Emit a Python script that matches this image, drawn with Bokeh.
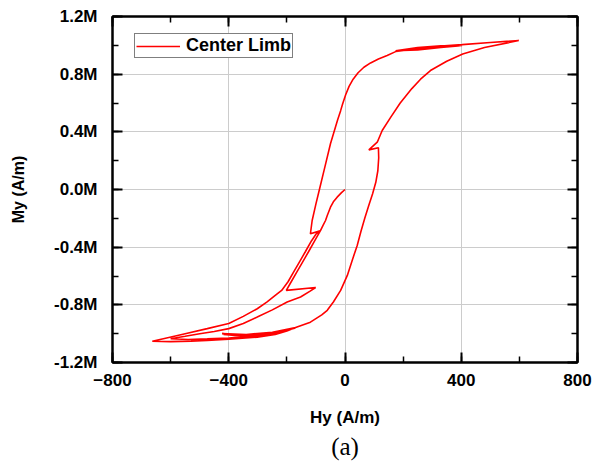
from bokeh.plotting import figure
from bokeh.models import Range1d, FixedTicker, PrintfTickFormatter, LinearAxis, Title
from bokeh.embed import file_html
from bokeh.resources import INLINE

# ---- data (Hy in A/m, My in MA/m) ----
initial_H = [0, -12, -27, -40, -50, -61, -67, -76, -84]
initial_M = [0, -0.022, -0.053, -0.085, -0.123, -0.18, -0.215, -0.25, -0.284]

descent1_H = [-104, -125, -145, -165, -185, -202]
descent1_M = [-0.355, -0.43, -0.50, -0.57, -0.64, -0.70]

notch1_H = [-101]
notch1_M = [-0.68]

lineB_H = [-120, -153, -199, -250, -302, -350, -400, -450, -500, -550, -600]
lineB_M = [-0.705, -0.746, -0.78, -0.835, -0.885, -0.93, -0.965, -0.985, -1.0, -1.018, -1.035]

return2_H = [-540, -474, -400, -302, -240, -200, -170]
return2_M = [-1.04, -1.036, -1.03, -1.015, -0.998, -0.975, -0.958]

bottom_loop_H = [-250, -340, -423, -340, -250, -170, -250, -340, -418, -340, -250, -170]
bottom_loop_M = [-0.99, -1.006, -1.0, -1.015, -1.003, -0.96, -0.995, -1.01, -1.005, -1.02, -1.008, -0.958]

rise_H = [-119, -80, -61, -40, -15, 8, 25, 42, 55, 68, 82, 95, 106, 113, 116, 115]
rise_M = [-0.92, -0.87, -0.838, -0.78, -0.70, -0.596, -0.49, -0.388, -0.29, -0.20, -0.11, -0.03, 0.05, 0.13, 0.22, 0.29]

notch2_H = [82]
notch2_M = [0.275]

upper_H = [111, 128, 157, 190, 230, 260, 294, 350, 405, 480, 598]
upper_M = [0.328, 0.409, 0.5, 0.6, 0.70, 0.765, 0.825, 0.89, 0.94, 0.985, 1.033]

top_back_H = [500, 403, 294, 230, 174]
top_back_M = [1.02, 1.005, 0.99, 0.975, 0.958]

top_loop_H = [250, 330, 403, 330, 250, 174, 250, 330, 398, 330, 250, 176]
top_loop_M = [0.972, 0.99, 1.0, 0.997, 0.985, 0.962, 0.968, 0.985, 0.998, 0.993, 0.98, 0.958]

fall_H = [145, 115, 88, 65, 45, 28, 14, 2, -8, -15, -25, -33, -50, -70, -88, -100, -113, -119]
fall_M = [0.93, 0.905, 0.878, 0.848, 0.81, 0.765, 0.715, 0.655, 0.595, 0.547, 0.485, 0.432,
          0.317, 0.15, 0.0, -0.1, -0.215, -0.307]

notch3_H = [-86]
notch3_M = [-0.287]

descent2_H = [-100, -115, -136, -156, -176, -196, -218]
descent2_M = [-0.31, -0.355, -0.43, -0.50, -0.57, -0.64, -0.70]

lineA_H = [-240, -268, -302, -350, -400, -474, -550, -610, -663]
lineA_M = [-0.735, -0.78, -0.827, -0.88, -0.93, -0.965, -1.0, -1.028, -1.053]

return1_H = [-600, -530, -474, -400, -302, -240, -200, -170]
return1_M = [-1.055, -1.052, -1.047, -1.038, -1.024, -1.005, -0.982, -0.958]

x_major = [-800, -400, 0, 400, 800]
x_minor = [-800, -600, -400, -200, 0, 200, 400, 600, 800]
y_major = [-1.2, -0.8, -0.4, 0.0, 0.4, 0.8, 1.2]
y_minor = [-1.2, -1.0, -0.8, -0.6, -0.4, -0.2, 0.0, 0.2, 0.4, 0.6, 0.8, 1.0, 1.2]

H = (initial_H + descent1_H + notch1_H + lineB_H + return2_H + bottom_loop_H + rise_H
     + notch2_H + upper_H + top_back_H + top_loop_H + fall_H + notch3_H + descent2_H
     + lineA_H + return1_H)
M = (initial_M + descent1_M + notch1_M + lineB_M + return2_M + bottom_loop_M + rise_M
     + notch2_M + upper_M + top_back_M + top_loop_M + fall_M + notch3_M + descent2_M
     + lineA_M + return1_M)

FONT = "Liberation Sans"

p = figure(width=592, height=470, output_backend="svg", toolbar_location=None,
           x_range=Range1d(-800, 800), y_range=Range1d(-1.2, 1.2),
           min_border_left=112, min_border_right=15, min_border_top=16, min_border_bottom=108,
           background_fill_color="white", border_fill_color="white")
p.outline_line_color = "black"
p.outline_line_width = 2

p.line(H, M, line_color="#ff0000", line_width=1.6, legend_label="Center Limb")

x_ticker = FixedTicker(ticks=x_major, minor_ticks=x_minor)
y_ticker = FixedTicker(ticks=y_major, minor_ticks=y_minor)


def style_axis(ax):
    ax.axis_line_color = "black"
    ax.axis_line_width = 2
    ax.major_tick_in = 10
    ax.major_tick_out = 0
    ax.minor_tick_in = 6
    ax.minor_tick_out = 0
    ax.major_tick_line_width = 2
    ax.minor_tick_line_width = 1.5
    ax.major_tick_line_color = "black"
    ax.minor_tick_line_color = "black"
    ax.major_label_text_font = FONT
    ax.major_label_text_font_style = "bold"
    ax.major_label_text_font_size = "17px"
    ax.major_label_text_color = "black"
    ax.axis_label_text_font = FONT
    ax.axis_label_text_font_style = "bold"
    ax.axis_label_text_color = "black"


xa = p.xaxis[0]
xa.ticker = x_ticker
style_axis(xa)
xa.axis_label = "Hy (A/m)"
xa.axis_label_text_font_size = "17px"
xa.major_label_standoff = 11
xa.axis_label_standoff = 19

ya = p.yaxis[0]
ya.ticker = y_ticker
ya.formatter = PrintfTickFormatter(format="%.1fM")
style_axis(ya)
ya.axis_label = "My (A/m)"
ya.axis_label_text_font_size = "16px"
ya.major_label_standoff = 15
ya.axis_label_standoff = 24

top = LinearAxis(ticker=FixedTicker(ticks=x_major, minor_ticks=x_minor))
style_axis(top)
top.major_label_text_font_size = "1px"
top.major_label_text_color = None
top.major_label_standoff = 0
p.add_layout(top, "above")

right = LinearAxis(ticker=FixedTicker(ticks=y_major, minor_ticks=y_minor))
style_axis(right)
right.major_label_text_font_size = "1px"
right.major_label_text_color = None
right.major_label_standoff = 0
p.add_layout(right, "right")

p.xgrid.ticker = x_ticker
p.ygrid.ticker = y_ticker
p.xgrid.grid_line_color = "#cccccc"
p.ygrid.grid_line_color = "#cccccc"
p.xgrid.grid_line_width = 1
p.ygrid.grid_line_width = 1

lg = p.legend[0]
lg.location = (22, 304)
lg.border_line_color = "black"
lg.border_line_width = 1
lg.padding = 1
lg.margin = 0
lg.spacing = 0
lg.glyph_width = 44
lg.glyph_height = 18
lg.label_height = 18
lg.label_standoff = 6
lg.label_text_font = FONT
lg.label_text_font_style = "bold"
lg.label_text_font_size = "18px"
lg.label_text_color = "black"
lg.background_fill_color = "white"
lg.background_fill_alpha = 1

cap = Title(text="(a)", align="center", text_font="Liberation Serif", text_font_size="25px",
            text_font_style="normal", text_color="black", standoff=2)
p.add_layout(cap, "below")

open("out.html", "w").write(file_html(p, INLINE))
